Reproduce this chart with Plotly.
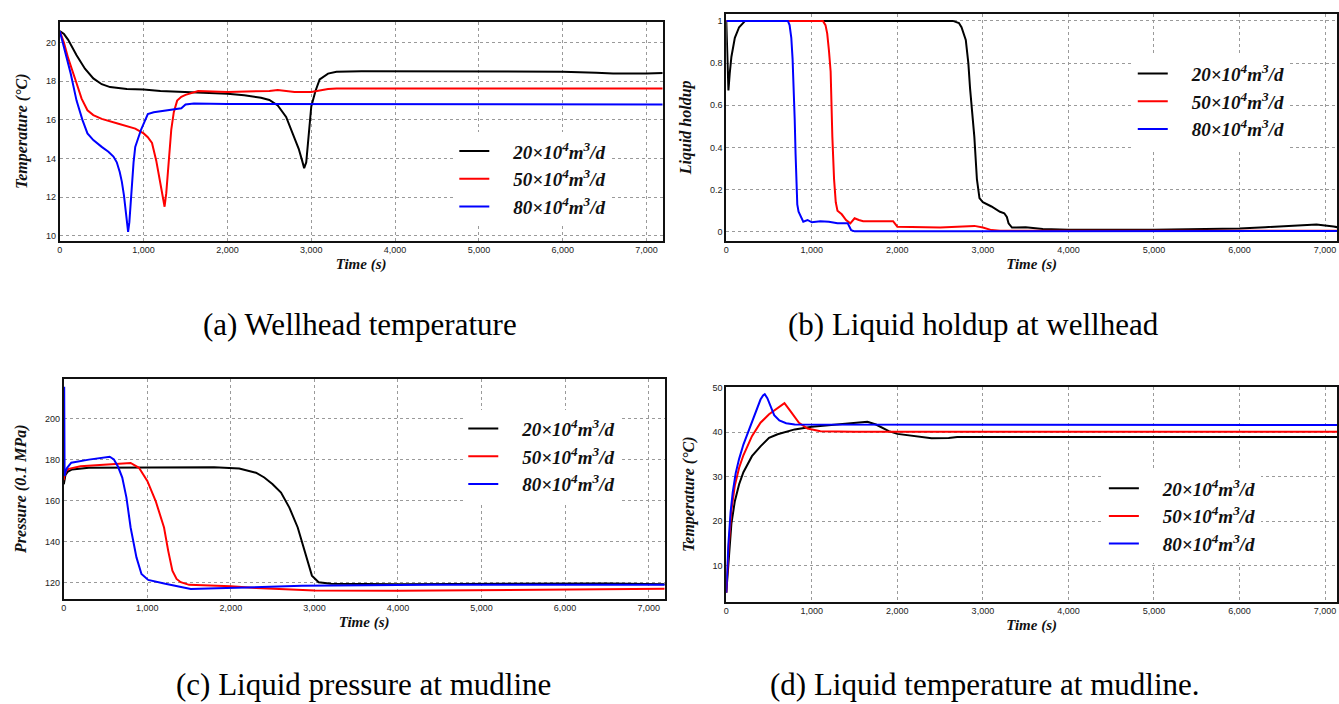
import plotly.graph_objects as go

W, H = 1339, 704
SERIF = "Times New Roman, Liberation Serif, Times, serif"

series_names = ["20×10<sup>4</sup>m<sup>3</sup>/d", "50×10<sup>4</sup>m<sup>3</sup>/d", "80×10<sup>4</sup>m<sup>3</sup>/d"]
series_colors = ["#000000", "#ff0000", "#0000ff"]
captions = ["(a) Wellhead temperature", "(b) Liquid holdup at wellhead",
            "(c) Liquid pressure at mudline", "(d) Liquid temperature at mudline."]
x_title = "Time (s)"
y_titles = ["Temperature (°C)", "Liquid holdup", "Pressure (0.1 MPa)", "Temperature (°C)"]

# ---------------- (a) Wellhead temperature ----------------
a_t20 = [0, 50, 100, 200, 300, 400, 500, 600, 800, 1000, 1200, 1500, 1800, 2000, 2200, 2400, 2500, 2600,
         2700, 2800, 2850, 2890, 2915, 2940, 2970, 3000, 3050, 3100, 3200, 3300, 3600, 4000, 5000, 6000,
         6400, 6600, 7000, 7200]
a_v20 = [20.6, 20.45, 20.15, 19.35, 18.65, 18.15, 17.85, 17.7, 17.6, 17.57, 17.5, 17.45, 17.4, 17.36, 17.28,
         17.15, 17.03, 16.75, 16.15, 15.1, 14.5, 13.9, 13.5, 13.8, 15.3, 16.7, 17.5, 18.1, 18.4, 18.5, 18.52,
         18.52, 18.52, 18.5, 18.45, 18.4, 18.4, 18.43]
a_t50 = [0, 50, 100, 150, 200, 260, 330, 400, 500, 700, 900, 1000, 1050, 1100, 1150, 1200, 1230, 1250, 1270,
         1290, 1310, 1330, 1360, 1400, 1450, 1500, 1650, 2000, 2500, 2600, 2800, 3000, 3200, 3300, 7200]
a_v50 = [20.6, 20.0, 19.2, 18.5, 17.9, 17.1, 16.5, 16.25, 16.05, 15.8, 15.55, 15.3, 15.1, 14.8, 13.9, 12.7,
         12.0, 11.5, 12.2, 13.4, 14.6, 15.5, 16.4, 17.0, 17.2, 17.3, 17.5, 17.45, 17.5, 17.55, 17.45, 17.45,
         17.6, 17.63, 17.63]
a_t80 = [0, 40, 80, 130, 200, 270, 330, 400, 500, 580, 640, 680, 715, 740, 765, 790, 815, 830, 845, 860, 880,
         900, 935, 970, 1010, 1050, 1120, 1200, 1300, 1400, 1450, 1500, 1600, 2000, 7200]
a_v80 = [20.6, 19.9, 19.2, 18.4, 17.0, 16.0, 15.3, 14.95, 14.6, 14.35, 14.1, 13.8, 13.3, 12.8, 12.1, 11.2,
         10.2, 10.7, 11.8, 12.8, 13.8, 14.6, 15.1, 15.5, 15.9, 16.3, 16.4, 16.45, 16.5, 16.55, 16.6, 16.8,
         16.85, 16.82, 16.8]

# ---------------- (b) Liquid holdup at wellhead ----------------
b_t20 = [0, 10, 25, 40, 60, 100, 150, 220, 2650, 2720, 2750, 2800, 2830, 2850, 2880, 2900, 2930, 2960, 3000,
         3100, 3200, 3250, 3280, 3300, 3340, 3500, 3700, 4000, 5000, 5800, 6000, 6300, 6600, 6900, 7100, 7200]
b_v20 = [1.0, 0.9, 0.67, 0.75, 0.83, 0.92, 0.97, 1.0, 1.0, 0.99, 0.97, 0.91, 0.8, 0.68, 0.55, 0.45, 0.25,
         0.16, 0.14, 0.12, 0.095, 0.088, 0.07, 0.04, 0.02, 0.022, 0.013, 0.01, 0.01, 0.012, 0.015, 0.022,
         0.03, 0.035, 0.025, 0.018]
b_t50 = [0, 1130, 1160, 1180, 1200, 1220, 1240, 1260, 1280, 1300, 1350, 1400, 1450, 1500, 1550, 1600, 1950,
         2000, 2500, 2900, 3000, 3100, 3200, 7200]
b_v50 = [1.0, 1.0, 0.98, 0.94, 0.86, 0.76, 0.45, 0.25, 0.14, 0.1, 0.083, 0.056, 0.04, 0.064, 0.056, 0.05,
         0.05, 0.024, 0.02, 0.028, 0.02, 0.008, 0.005, 0.005]
b_t80 = [0, 720, 740, 760, 775, 790, 800, 810, 820, 830, 845, 860, 900, 950, 1000, 1100, 1200, 1300, 1420,
         1460, 1500, 3000, 7200]
b_v80 = [1.0, 1.0, 0.98, 0.92, 0.82, 0.68, 0.53, 0.37, 0.24, 0.13, 0.095, 0.08, 0.048, 0.056, 0.045, 0.05,
         0.048, 0.04, 0.04, 0.008, 0.002, 0.002, 0.004]

# ---------------- (c) Liquid pressure at mudline ----------------
c_t20 = [0, 10, 20, 50, 100, 300, 1000, 1800, 2100, 2300, 2400, 2500, 2600, 2700, 2800, 2900, 2970, 3050,
         3200, 4000, 5000, 5500, 6500, 7200]
c_v20 = [168.0, 171.0, 172.5, 174.2, 175.2, 176.0, 176.0, 176.3, 175.7, 173.6, 171.3, 168.0, 163.9, 156.6,
         146.9, 132.3, 123.4, 120.2, 119.4, 119.2, 119.4, 119.6, 119.6, 119.2]
c_t50 = [0, 10, 30, 60, 200, 500, 800, 900, 1000, 1100, 1200, 1250, 1300, 1350, 1400, 1500, 2000, 2300,
         2600, 3000, 4000, 5000, 6000, 7000, 7200]
c_v50 = [170.0, 172.5, 174.5, 175.5, 176.8, 177.6, 178.4, 176.0, 169.6, 159.8, 146.9, 135.5, 125.8, 121.8,
         120.2, 118.9, 118.2, 117.4, 116.9, 116.1, 116.0, 116.3, 116.6, 117.0, 117.0]
c_t80 = [0, 5, 10, 20, 40, 90, 300, 550, 600, 650, 700, 750, 800, 870, 930, 1010, 1215, 1420, 1520, 1830,
         2340, 2850, 4380, 7200]
c_v80 = [172.0, 215.5, 172.0, 174.0, 176.0, 178.5, 180.0, 181.4, 180.1, 176.5, 171.2, 161.5, 146.9, 132.3,
         124.2, 121.3, 119.4, 117.7, 116.9, 117.2, 118.0, 118.5, 119.0, 119.0]

# ---------------- (d) Liquid temperature at mudline ----------------
d_t20 = [0, 25, 60, 100, 150, 200, 300, 400, 500, 600, 800, 1000, 1300, 1500, 1650, 1750, 1900, 2000, 2200,
         2400, 2600, 2700, 7200]
d_v20 = [4.0, 11.5, 19.5, 24.5, 28.3, 31.0, 34.6, 36.8, 38.7, 39.5, 40.6, 41.2, 41.7, 42.1, 42.3, 41.7,
         40.2, 39.6, 39.1, 38.6, 38.7, 38.9, 38.9]
d_t50 = [0, 25, 60, 100, 150, 200, 300, 400, 500, 600, 680, 750, 850, 950, 1100, 1500, 7200]
d_v50 = [4.0, 13.5, 22.5, 28.0, 32.0, 34.8, 39.1, 42.1, 44.0, 45.5, 46.5, 44.7, 42.1, 40.8, 40.2, 40.1, 40.1]
d_t80 = [0, 25, 50, 75, 110, 150, 200, 250, 300, 350, 400, 430, 450, 480, 520, 560, 620, 700, 800, 1000,
         7200]
d_v80 = [4.0, 15.0, 22.0, 26.5, 30.8, 34.0, 37.2, 39.8, 42.5, 45.1, 47.3, 48.2, 48.5, 47.6, 45.5, 43.8,
         42.6, 42.0, 41.7, 41.7, 41.6]

panels = [
    ([a_t20, a_t50, a_t80], [a_v20, a_v50, a_v80]),
    ([b_t20, b_t50, b_t80], [b_v20, b_v50, b_v80]),
    ([c_t20, c_t50, c_t80], [c_v20, c_v50, c_v80]),
    ([d_t20, d_t50, d_t80], [d_v20, d_v50, d_v80]),
]
y_tickvals = [[10, 12, 14, 16, 18, 20], [0, 0.2, 0.4, 0.6, 0.8, 1],
              [120, 140, 160, 180, 200], [10, 20, 30, 40, 50]]
x_tickvals = [0, 1000, 2000, 3000, 4000, 5000, 6000, 7000]

# pixel layout of each panel: (left, right, top, bottom)
boxes = [(57, 662, 18, 238), (726, 1339, 10, 238), (61, 664, 377, 598), (726, 1339, 385, 601)]
x_ranges = [[0, 7190], [0, 7140], [0, 7190], [0, 7140]]
y_ranges = [[9.74, 21.08], [-0.042, 1.033], [112.2, 219.4], [2.0, 50.15]]
legend_pos = [(453, 129), (1134, 51), (462, 408), (1105, 468)]
caption_pos = [(358, 322), (974, 322), (362, 684), (986, 684)]

fig = go.Figure()
for i, (ts, vs) in enumerate(panels):
    sfx = "" if i == 0 else str(i + 1)
    for k in range(3):
        fig.add_trace(go.Scatter(
            x=ts[k], y=vs[k], mode="lines",
            line=dict(color=series_colors[k], width=2),
            name="&nbsp;&nbsp;&nbsp;&nbsp;<b><i>" + series_names[k] + "</i></b>",
            xaxis="x" + sfx, yaxis="y" + sfx,
            legend="legend" + sfx,
        ))

axis_common = dict(showline=True, mirror=True, linecolor="#111111", linewidth=2,
                   showgrid=True, gridcolor="#9a9a9a", griddash="dot", gridwidth=1,
                   zeroline=False, ticks="",
                   tickfont=dict(family="Liberation Sans", size=9, color="#222222"))

layout = dict(width=W, height=H, margin=dict(l=0, r=0, t=0, b=0),
              paper_bgcolor="white", plot_bgcolor="white", showlegend=True)
annotations = []
for i in range(4):
    sfx = "" if i == 0 else str(i + 1)
    l, r, t, b = boxes[i]
    layout["xaxis" + sfx] = dict(
        axis_common, domain=[l / W, min(r / W, 1)], range=x_ranges[i],
        anchor="y" + sfx, tickvals=x_tickvals, tickformat=",d",
        title=dict(text="<b><i>" + x_title + "</i></b>", standoff=4,
                   font=dict(family=SERIF, size=15, color="#111111")))
    layout["yaxis" + sfx] = dict(
        axis_common, domain=[1 - b / H, 1 - t / H], range=y_ranges[i],
        anchor="x" + sfx, tickvals=y_tickvals[i],
        title=dict(text="<b><i>" + y_titles[i] + "</i></b>", standoff=14,
                   font=dict(family=SERIF, size=16, color="#111111")))
    lx, ly = legend_pos[i]
    layout["legend" + sfx] = dict(
        x=lx / W, y=1 - ly / H, xanchor="left", yanchor="top", bgcolor="white",
        borderwidth=0, tracegroupgap=0,
        font=dict(family=SERIF, size=19, color="#111111"))
    cx, cy = caption_pos[i]
    annotations.append(dict(text=captions[i], x=cx / W, y=1 - cy / H, xref="paper", yref="paper",
                            xanchor="center", yanchor="middle", showarrow=False,
                            font=dict(family=SERIF, size=31, color="#000000")))
layout["annotations"] = annotations
fig.update_layout(**layout)

fig.write_html("out.html")
